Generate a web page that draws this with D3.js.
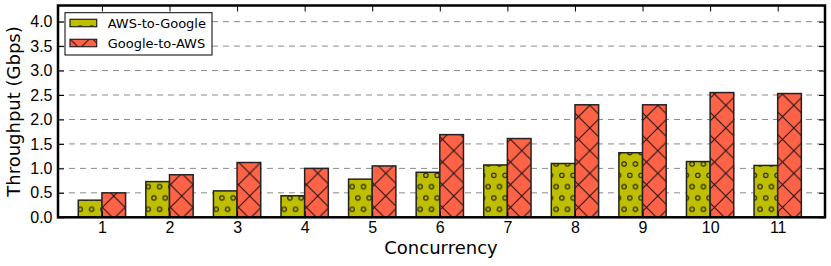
<!DOCTYPE html>
<html>
<head>
<meta charset="utf-8">
<script src="https://cdn.jsdelivr.net/npm/d3@7"></script>
<style>
  body { margin: 0; background: #fff; }
  svg { display: block; font-family: "DejaVu Sans", sans-serif; }
</style>
</head>
<body>
<div id="chart"></div>
<script>
// values
const concurrency = [1, 2, 3, 4, 5, 6, 7, 8, 9, 10, 11];
const awsToGoogle = [0.35, 0.73, 0.54, 0.44, 0.78, 0.92, 1.07, 1.10, 1.32, 1.14, 1.06];
const googleToAws = [0.50, 0.87, 1.12, 1.00, 1.05, 1.69, 1.61, 2.30, 2.30, 2.55, 2.53];
const yTicks = [0.0, 0.5, 1.0, 1.5, 2.0, 2.5, 3.0, 3.5, 4.0];
const seriesNames = ["AWS-to-Google", "Google-to-AWS"];

const width = 831;
const height = 266;
const plotLeft = 58, plotRight = 825, plotTop = 5.5, plotBottom = 217.3;
const barW = 0.35;

const svg = d3.select("#chart")
  .append("svg")
  .attr("width", width)
  .attr("height", height);

// hatch patterns
const defs = svg.append("defs");
const cp = 11.33; // circle spacing
const dots = defs.append("pattern")
  .attr("id", "dots")
  .attr("patternUnits", "userSpaceOnUse")
  .attr("x", 0.97).attr("y", 5.37)
  .attr("width", cp).attr("height", cp * 2);
dots.append("rect").attr("width", cp).attr("height", cp * 2).attr("fill", "#bfbf00");
[[0, 0], [cp, 0], [0, 2 * cp], [cp, 2 * cp], [cp / 2, cp]].forEach(p => {
  dots.append("circle")
    .attr("cx", p[0]).attr("cy", p[1]).attr("r", 2.2)
    .attr("fill", "none").attr("stroke", "#111").attr("stroke-width", 1);
});

const xp = 22.67; // cross hatch period
const cross = defs.append("pattern")
  .attr("id", "cross")
  .attr("patternUnits", "userSpaceOnUse")
  .attr("x", 0.37).attr("y", 14.67)
  .attr("width", xp).attr("height", xp);
cross.append("rect").attr("width", xp).attr("height", xp).attr("fill", "#ff6347");
cross.append("path")
  .attr("d", `M0,0L${xp},${xp}M0,${xp}L${xp},0`)
  .attr("stroke", "#111").attr("stroke-width", 1).attr("fill", "none");

// scales
const x = d3.scaleLinear().domain([0.35, 11.7]).range([plotLeft, plotRight]);
const y = d3.scaleLinear().domain([0, 4.33]).range([plotBottom, plotTop]);

// grid
svg.append("g")
  .selectAll("line")
  .data(yTicks.filter(d => d > 0))
  .enter()
  .append("line")
  .attr("x1", plotLeft).attr("x2", plotRight)
  .attr("y1", d => y(d)).attr("y2", d => y(d))
  .attr("stroke", "#8a8a8a")
  .attr("stroke-width", 1)
  .attr("stroke-dasharray", "6,5");

// bars
const data = concurrency.map((c, i) => ({ c: c, a: awsToGoogle[i], g: googleToAws[i] }));

svg.selectAll(".bar-a")
  .data(data)
  .enter()
  .append("rect")
  .attr("class", "bar-a")
  .attr("x", d => x(d.c - barW))
  .attr("y", d => y(d.a))
  .attr("width", x(barW) - x(0))
  .attr("height", d => y(0) - y(d.a))
  .attr("fill", "url(#dots)")
  .attr("stroke", "#222")
  .attr("stroke-width", 1.5);

svg.selectAll(".bar-g")
  .data(data)
  .enter()
  .append("rect")
  .attr("class", "bar-g")
  .attr("x", d => x(d.c))
  .attr("y", d => y(d.g))
  .attr("width", x(barW) - x(0))
  .attr("height", d => y(0) - y(d.g))
  .attr("fill", "url(#cross)")
  .attr("stroke", "#222")
  .attr("stroke-width", 1.5);

// axes
const xAxis = svg.append("g")
  .attr("transform", `translate(0,${plotBottom})`)
  .call(d3.axisBottom(x).tickValues(concurrency).tickSize(-6).tickFormat(d3.format("d")));
xAxis.select(".domain").remove();
xAxis.selectAll("text")
  .attr("font-size", 16).attr("fill", "#000")
  .attr("y", 16).attr("dy", 0);

const xTop = svg.append("g")
  .attr("transform", `translate(0,${plotTop})`)
  .call(d3.axisTop(x).tickValues(concurrency).tickSize(-6).tickFormat(""));
xTop.select(".domain").remove();

const yAxis = svg.append("g")
  .attr("transform", `translate(${plotLeft},0)`)
  .call(d3.axisLeft(y).tickValues(yTicks).tickSize(-6).tickPadding(5.5).tickFormat(d3.format(".1f")));
yAxis.select(".domain").remove();
yAxis.selectAll("text").attr("font-size", 16).attr("fill", "#000");

const yRight = svg.append("g")
  .attr("transform", `translate(${plotRight},0)`)
  .call(d3.axisRight(y).tickValues(yTicks).tickSize(-6).tickFormat(""));
yRight.select(".domain").remove();

svg.selectAll(".tick line").attr("stroke", "#000").attr("stroke-width", 1);

// frame
svg.append("rect")
  .attr("x", plotLeft).attr("y", plotTop)
  .attr("width", plotRight - plotLeft).attr("height", plotBottom - plotTop)
  .attr("fill", "none")
  .attr("stroke", "#000")
  .attr("stroke-width", 2.5);

// axis labels
svg.append("text")
  .attr("x", 441).attr("y", 254.3)
  .attr("text-anchor", "middle")
  .attr("font-size", 18)
  .text("Concurrency");

svg.append("text")
  .attr("transform", "translate(19.5,111.5) rotate(-90)")
  .attr("text-anchor", "middle")
  .attr("font-size", 18)
  .text("Throughput (Gbps)");

// legend
const legend = svg.append("g");
legend.append("rect")
  .attr("x", 65).attr("y", 12.7)
  .attr("width", 147).attr("height", 42.3)
  .attr("fill", "#fff")
  .attr("stroke", "#000")
  .attr("stroke-width", 1);

const fills = ["url(#dots)", "url(#cross)"];
seriesNames.forEach((name, i) => {
  const ly = 19.3 + i * 20;
  legend.append("rect")
    .attr("x", 70).attr("y", ly)
    .attr("width", 26.7).attr("height", 7.4)
    .attr("fill", fills[i])
    .attr("stroke", "#222")
    .attr("stroke-width", 1.2);
  legend.append("text")
    .attr("x", 107.7).attr("y", ly + 3.7)
    .attr("dy", "0.35em")
    .attr("font-size", 13)
    .text(name);
});
</script>
</body>
</html>
